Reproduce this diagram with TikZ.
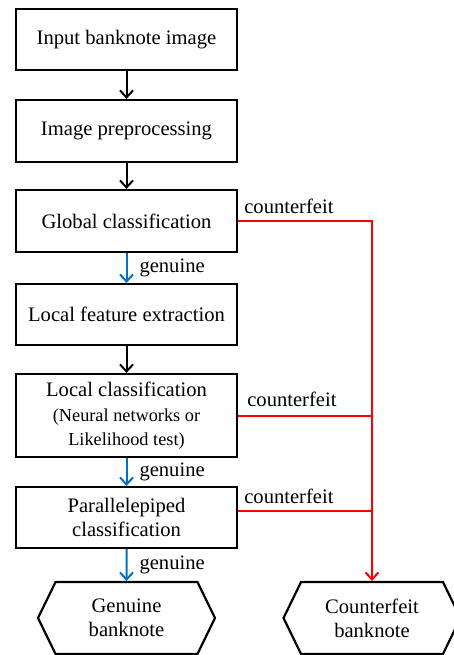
\documentclass[tikz,border=0pt]{standalone}
\usepackage{fontspec}
\setmainfont{Liberation Serif}
\usetikzlibrary{arrows.meta,calc,shapes.symbols}

\definecolor{passblue}{RGB}{0,112,192}
\newcommand{\bigtxt}{\fontsize{20.6}{24}\selectfont}
\newcommand{\smalltxt}{\fontsize{18.3}{22}\selectfont}

\tikzset{
  stage/.style={draw, line width=2.2pt, minimum width=221pt, inner sep=2pt, align=center, font=\bigtxt},
  outcome/.style={draw, line width=2.2pt, shape=signal, signal to=west and east, signal pointer angle=128,
    minimum width=177pt, minimum height=72pt, inner sep=0pt, align=center, font=\bigtxt},
  flow/.style={line width=2pt, -{Straight Barb[length=7pt,width=13pt]}},
  pass/.style={flow, draw=passblue},
  reject/.style={line width=2pt, draw=red},
  tag/.style={inner sep=0pt, font=\bigtxt}
}

\begin{document}
\begin{tikzpicture}[x=1pt,y=1pt]
  \useasboundingbox (0,0) rectangle (454,-655);
  \node[stage, minimum height=61pt] (input) at (126.5,-39.5) {Input banknote image};
  \node[stage, minimum height=62pt] (prep) at ($(input)+(0,-91.5)$) {Image preprocessing};
  \node[stage, minimum height=62pt] (glob) at ($(prep)+(0,-90)$) {Global classification};
  \node[stage, minimum height=61pt] (feat) at ($(glob)+(0,-93.5)$) {Local feature extraction};
  \node[stage, minimum height=83pt] (loc) at ($(feat)+(0,-101)$)
    {Local classification\\[1pt] {\smalltxt (Neural networks or}\\ {\smalltxt Likelihood test)}};
  \node[stage, minimum height=61pt] (par) at ($(loc)+(0,-102)$) {Parallelepiped\\ classification};
  \node[outcome] (gen) at ($(par)+(0,-100.5)$) {Genuine\\ banknote};
  \node[outcome] (cf) at (372,-618) {Counterfeit\\ banknote};

  % main flow
  \draw[flow] (input) -- (prep);
  \draw[flow] (prep) -- (glob);
  \draw[pass] (glob) -- node[tag, anchor=west, xshift=12pt] (g1) {genuine} (feat);
  \draw[flow] (feat) -- (loc);
  \draw[pass] (loc) -- node[tag, anchor=west, xshift=12pt] (g2) {genuine} (par);
  \draw[pass] (par) -- node[tag, anchor=west, xshift=12pt] (g3) {genuine} (gen);

  % rejections
  \coordinate (pout) at ($(par.east)+(0,6.5)$);
  \draw[reject, -{Straight Barb[length=7pt,width=13pt]}] (glob.east) -| (cf.north);
  \draw[reject] (loc.east) -- (loc.east -| cf.north);
  \draw[reject] (pout) -- (pout -| cf.north);
  \node[tag, anchor=west] (c1) at ($(glob.east)+(6,15)$) {counterfeit};
  \node[tag, anchor=west] (c2) at ($(loc.east)+(9,16)$) {counterfeit};
  \node[tag, anchor=west] (c3) at ($(pout)+(6,15)$) {counterfeit};
\end{tikzpicture}
\end{document}
